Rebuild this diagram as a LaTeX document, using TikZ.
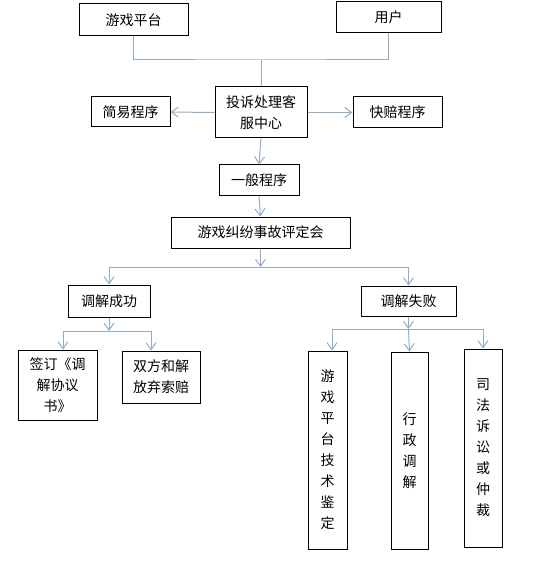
\documentclass[tikz,border=0pt]{standalone}
\usepackage{fontspec}
\newfontfamily\cjk{Noto Sans CJK SC}
\usetikzlibrary{arrows.meta}

\definecolor{linkblue}{RGB}{145,172,198}

\tikzset{
	box/.style={draw=black, line width=1pt, fill=white, inner sep=0pt, align=center,
		font=\cjk\fontsize{14}{21}\selectfont},
	link/.style={draw=linkblue, line width=1pt},
	arr/.style={link, -{Straight Barb[length=7pt, width=10pt]}},
}

\begin{document}
\begin{tikzpicture}[x=1pt, y=-1pt]
	
		\useasboundingbox (0,0) rectangle (533,561);
		
		\node[box, minimum width=109, minimum height=32] (plat) at (133.5, 20) {游戏平台};
		\node[box, minimum width=105, minimum height=31] (user) at (388.5, 17.5) {用户};
		\node[box, minimum width=92, minimum height=51] (svc) at (261, 112.5) {投诉处理客\\服中心};
		\node[box, minimum width=79, minimum height=30] (simple) at (130.5, 112) {简易程序};
		\node[box, minimum width=89, minimum height=31] (fast) at (397.5, 112.5) {快赔程序};
		\node[box, minimum width=80, minimum height=31] (general) at (259, 180.5) {一般程序};
		\node[box, minimum width=179, minimum height=31] (panel) at (260.5, 232.5) {游戏纠纷事故评定会};
		
		\node[box, minimum width=82, minimum height=32] (ok) at (109, 301) {调解成功};
		\node[box, minimum width=95, minimum height=30] (fail) at (408.5, 301) {调解失败};
		
		\node[box, minimum width=79, minimum height=70] (sign) at (57.5, 385) {签订《调\\解协议\\书》};
		\node[box, minimum width=78, minimum height=52] (settle) at (161, 377) {双方和解\\放弃索赔};
		
		\node[box, minimum width=39, minimum height=198] (tech) at (327.5, 450) {游\\戏\\平\\台\\技\\术\\鉴\\定};
		\node[box, minimum width=37, minimum height=197] (admin) at (409.5, 450.5) {行\\政\\调\\解};
		\node[box, minimum width=38, minimum height=198] (court) at (483, 448) {司\\法\\诉\\讼\\或\\仲\\裁};
		
		% joints of the branching lines
		\coordinate (topjoin) at (261, 60);
		\coordinate (midjoin) at (260.5, 267);
		\coordinate (okjoin) at (109, 331);
		\coordinate (okl) at (63, 331);
		\coordinate (okr) at (151, 331);
		\coordinate (failjoin) at (408.5, 329);
		\coordinate (faill) at (332, 329);
		\coordinate (failr) at (483, 329);
		
		\draw[link] (plat.south) |- (topjoin) -| (user.south);
		\draw[link] (topjoin) -- (svc.north);
		\draw[arr] (svc.west) -- (simple.east);
		\draw[arr] (svc.east) -- (fast.west);
		\draw[arr] (svc.south) -- (general.north);
		\draw[arr] (general.south) -- (panel.north);
		
		\draw[arr] (panel.south) -- (midjoin);
		\draw[arr] (midjoin) -| (ok.north);
		\draw[arr] (midjoin) -| (fail.north);
		
		\draw[arr] (ok.south) -- (okjoin);
		\draw[link] (okl) -- (okr);
		\draw[arr] (okl) -- (okl |- sign.north);
		\draw[arr] (okr) -- (okr |- settle.north);
		
		\draw[arr] (fail.south) -- (failjoin);
		\draw[link] (faill) -- (failr);
		\draw[arr] (faill) -- (faill |- tech.north);
		\draw[arr] (failjoin) -- (admin.north);
		\draw[arr] (failr) -- (court.north);
	
	\end{tikzpicture}
\end{document}
